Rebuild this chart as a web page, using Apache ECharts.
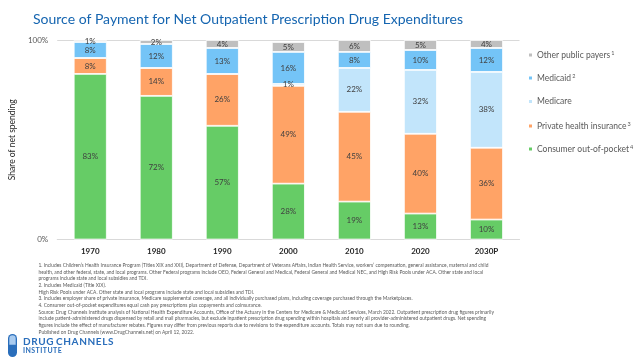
<!DOCTYPE html>
<html>
<head>
<meta charset="utf-8">
<script src="https://cdn.jsdelivr.net/npm/echarts@6/dist/echarts.min.js"></script>
<style>html,body{margin:0;padding:0;background:#fff;}#c{width:639px;height:357px;}</style>
</head>
<body>
<div id="c"></div>
<script>
const categories = ['1970','1980','1990','2000','2010','2020','2030P'];
const consumerOOP = [83,72,57,28,19,13,10];
const privateIns = [8,14,26,49,45,40,36];
const medicare = [0,0,0,1,22,32,38];
const medicaid = [8,12,13,16,8,10,12];
const otherPublic = [1,2,4,5,6,5,4];
const yTicks = ['0%','100%'];
const footnotes = [
"1. Includes Children\u2019s Health Insurance Program (Titles XIX and XXI), Department of Defense, Department of Veterans Affairs, Indian Health Service, workers\u2019 compensation, general assistance, maternal and child",
"health, and other federal, state, and local programs. Other Federal programs include OEO, Federal General and Medical, Federal General and Medical NEC, and High Risk Pools under ACA. Other state and local",
"programs include state and local subsidies and TDI.",
"2. Includes Medicaid (Title XIX).",
"High Risk Pools under ACA. Other state and local programs include state and local subsidies and TDI.",
"3. Includes employer share of private insurance, Medicare supplemental coverage, and all individually purchased plans, including coverage purchased through the Marketplaces.",
"4. Consumer out-of-pocket expenditures equal cash pay prescriptions plus copayments and coinsurance.",
"Source: Drug Channels Institute analysis of National Health Expenditure Accounts, Office of the Actuary in the Centers for Medicare & Medicaid Services, March 2022. Outpatient prescription drug figures primarily",
"include patient-administered drugs dispensed by retail and mail pharmacies, but exclude inpatient prescription drug spending within hospitals and nearly all provider-administered outpatient drugs. Net spending",
"figures include the effect of manufacturer rebates. Figures may differ from previous reports due to revisions to the expenditure accounts. Totals may not sum due to rounding.",
"Published on Drug Channels (www.DrugChannels.net) on April 12, 2022."
];

const FONT = 'Lato';
const colors = {
  'Consumer out-of-pocket': '#66CC66',
  'Private health insurance': '#FFA366',
  'Medicare': '#C2E5FB',
  'Medicaid': '#74C4F7',
  'Other public payers': '#BFBFBF'
};
const sups = {'Other public payers':'1','Medicaid':'2','Medicare':'','Private health insurance':'3','Consumer out-of-pocket':'4'};

function mk(name, data) {
  return {
    name: name, type: 'bar', stack: 'total', data: data, barWidth: '50%',
    itemStyle: { color: colors[name], borderColor: '#fff', borderWidth: 0.8 },
    label: {
      show: true, position: 'inside', color: '#404040', fontFamily: FONT, fontSize: 8,
      formatter: p => p.value > 0 ? p.value + '%' : ''
    }
  };
}

const legendOrder = ['Other public payers','Medicaid','Medicare','Private health insurance','Consumer out-of-pocket'];
const legendTops = [50, 73, 97, 121, 144];
const legends = legendOrder.map((n, i) => ({
  data: [n], left: 527, top: legendTops[i], orient: 'vertical', padding: 0,
  itemWidth: 5, itemHeight: 5, icon: 'rect', selectedMode: false, itemGap: 0,
  formatter: name => name + (sups[name] ? '{s|' + sups[name] + '}' : ''),
  textStyle: { fontFamily: FONT, fontSize: 8.5, color: '#595959', padding: [0,0,0,-1],
    rich: { s: { fontSize: 5.5, verticalAlign: 'top', color: '#595959', fontFamily: FONT, padding: [0,0,4,1] } } }
}));

const graphics = footnotes.map((t, i) => ({
  type: 'text', left: 38.5, top: 263 + i * 6.65,
  style: { text: t, fontFamily: FONT, fontSize: 4.9, fill: '#595959' }
}));
graphics.push(
  { type: 'rect', shape: { x: 8, y: 334, width: 9, height: 23, r: 4.5 }, style: { fill: '#2A6EBB' } },
  { type: 'rect', shape: { x: 9.3, y: 335.3, width: 6.4, height: 9.5, r: [3.2,3.2,0,0] }, style: { fill: '#A9CBEF' } },
  { type: 'text', left: 23, top: 336.5, style: { text: 'D\u200AR\u200AU\u200AG C\u200AH\u200AA\u200AN\u200AN\u200AE\u200AL\u200AS', fontFamily: FONT, fontSize: 10, fontWeight: 'bold', fill: '#2A6EBB' } },
  { type: 'text', left: 23, top: 347, style: { text: 'I\u200AN\u200AS\u200AT\u200AI\u200AT\u200AU\u200AT\u200AE', fontFamily: FONT, fontSize: 7, fontWeight: 'bold', fill: '#2A6EBB' } }
);

const chart = echarts.init(document.getElementById('c'));
chart.setOption({
  animation: false,
  title: { text: 'Source of Payment for Net Outpatient Prescription Drug Expenditures', left: 28, top: 7,
    textStyle: { fontFamily: FONT, fontSize: 14, fontWeight: 'normal', color: '#1565B0' } },
  legend: legends,
  grid: { left: 44, right: 119.5, top: 40, bottom: 117.5 },
  xAxis: { type: 'category', data: categories,
    axisLine: { lineStyle: { color: '#D9D9D9' } }, axisTick: { show: false },
    axisLabel: { fontFamily: FONT, fontSize: 8, fontWeight: 'bold', color: '#262626', margin: 8 } },
  yAxis: { type: 'value', min: 0, max: 100, interval: 100,
    name: 'Share of net spending', nameLocation: 'middle', nameGap: 32, nameRotate: 90,
    nameTextStyle: { fontFamily: FONT, fontSize: 8.5, color: '#262626' },
    axisLine: { show: false }, axisTick: { show: false },
    splitLine: { lineStyle: { color: '#D9D9D9' } },
    axisLabel: { fontFamily: FONT, fontSize: 8, color: '#595959', margin: 9,
      formatter: v => yTicks[v === 0 ? 0 : 1] } },
  series: [
    mk('Consumer out-of-pocket', consumerOOP),
    mk('Private health insurance', privateIns),
    mk('Medicare', medicare),
    mk('Medicaid', medicaid),
    mk('Other public payers', otherPublic)
  ],
  graphic: graphics
});
</script>
</body>
</html>
